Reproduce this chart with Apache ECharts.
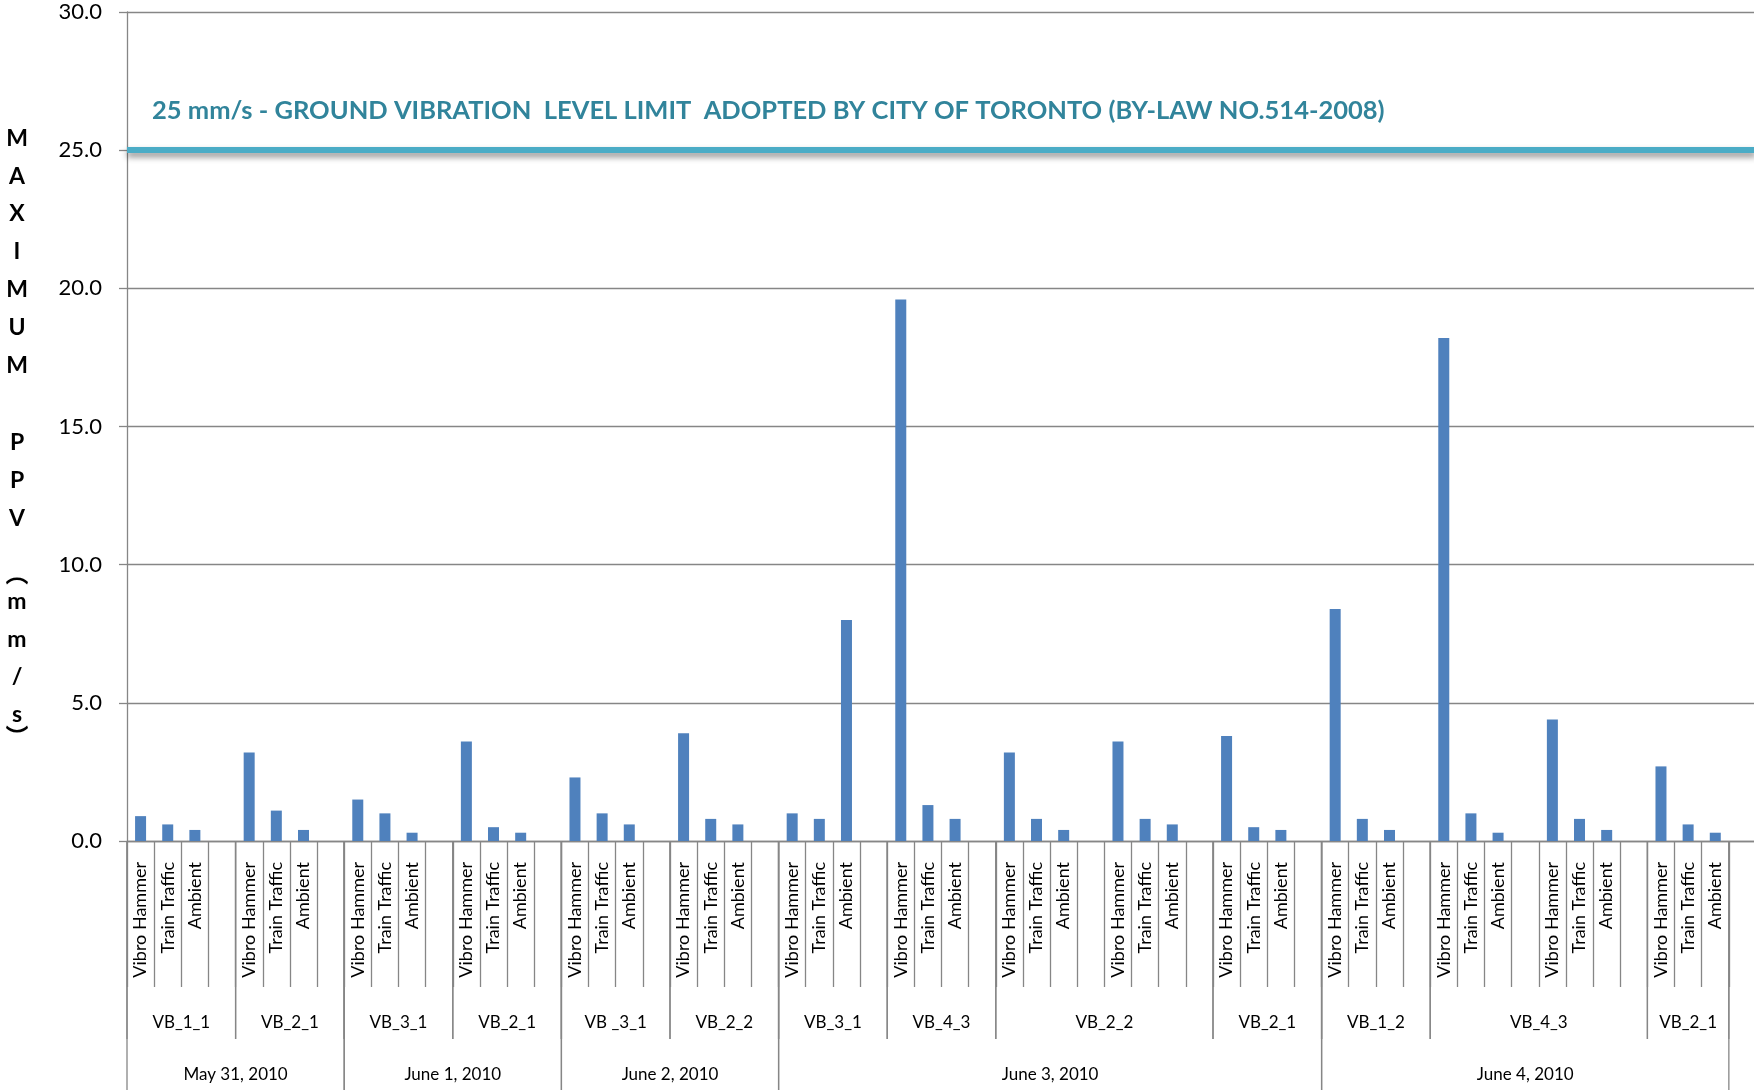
<!DOCTYPE html>
<html><head><meta charset="utf-8">
<script src="https://cdn.jsdelivr.net/npm/echarts@6/dist/echarts.min.js"></script>
<style>html,body{margin:0;padding:0;background:#fff}#c{width:1754px;height:1090px}</style>
</head><body><div id="c"></div>
<script>
// ---------- data ----------
const sources = ['Vibro Hammer', 'Train Traffic', 'Ambient'];
const setSensors = ['VB_1_1','VB_2_1','VB_3_1','VB_2_1','VB _3_1','VB_2_2','VB_3_1','VB_4_3','VB_2_2','VB_2_2','VB_2_1','VB_1_2','VB_4_3','VB_4_3','VB_2_1'];
const setDates = ['May 31, 2010','May 31, 2010','June 1, 2010','June 1, 2010','June 2, 2010','June 2, 2010','June 3, 2010','June 3, 2010','June 3, 2010','June 3, 2010','June 3, 2010','June 4, 2010','June 4, 2010','June 4, 2010','June 4, 2010'];
const vibroHammer  = [0.9, 3.2, 1.5, 3.6, 2.3, 3.9, 1.0, 19.6, 3.2, 3.6, 3.8, 8.4, 18.2, 4.4, 2.7];
const trainTraffic = [0.6, 1.1, 1.0, 0.5, 1.0, 0.8, 0.8, 1.3, 0.8, 0.8, 0.5, 0.8, 1.0, 0.8, 0.6];
const ambient      = [0.4, 0.4, 0.3, 0.3, 0.6, 0.6, 8.0, 0.8, 0.4, 0.6, 0.4, 0.4, 0.3, 0.4, 0.3];
const yMin = 0, yMax = 30, yStep = 5;
const limitValue = 25;
const limitText = '25 mm/s - GROUND VIBRATION  LEVEL LIMIT  ADOPTED BY CITY OF TORONTO (BY-LAW NO.514-2008)';
const yTitleLines = ['M','A','X','I','M','U','M','','P','P','V','','\uFE35','m','m','/','s','\uFE36'];

// ---------- build categories ----------
const cats = [], vals = [], setStart = [], setEnd = [];
setSensors.forEach((s, i) => {
  setStart.push(cats.length);
  [vibroHammer[i], trainTraffic[i], ambient[i]].forEach((v, k) => { cats.push(sources[k]); vals.push(v); });
  if (i < setSensors.length - 1) { cats.push(''); vals.push('-'); }
  setEnd.push(cats.length - 1);
});
cats.push(''); vals.push('-'); // trailing slot (cropped continuation)

const spanLabels = [];
function buildSpans(keyFn, labelFn, level) {
  const out = [];
  let cur = null;
  for (let i = 0; i < setSensors.length; i++) {
    const key = keyFn(i);
    if (cur && cur.key === key) { cur.end = setEnd[i]; }
    else { cur = { key, label: labelFn(i), start: setStart[i], end: setEnd[i] }; out.push(cur); }
  }
  return out.map(o => { spanLabels.push(o.label); return [o.start, 0, o.end, level, spanLabels.length - 1]; });
}
const spanData = buildSpans(i => setDates[i] + '|' + setSensors[i], i => setSensors[i], 2)
  .concat(buildSpans(i => setDates[i], i => setDates[i], 3));

const axisGray = '#868686';
const FONT = 'Lato';

const richName = yTitleLines.map((c, i) => {
  if (c === '') return i < 9 ? '{g1| }' : '{g2| }';
  if (c === '\uFE35') return '{p1|' + c + '}';
  if (c === '\uFE36') return '{p2|' + c + '}';
  return '{t|' + c + '}';
}).join('\n');

const chart = echarts.init(document.getElementById('c'), null, { renderer: 'canvas' });
chart.setOption({
  animation: false,
  backgroundColor: '#fff',
  grid: { left: 127, right: -2, top: 12, bottom: 249, containLabel: false, outerBoundsMode: 'none' },
  xAxis: {
    type: 'category',
    data: cats,
    boundaryGap: true,
    axisLine: { show: true, lineStyle: { color: axisGray, width: 1.3 } },
    axisTick: { show: true, interval: 0, length: 146, lineStyle: { color: axisGray, width: 1.3 } },
    axisLabel: { interval: 0, rotate: 90, margin: 21, fontSize: 18, fontFamily: FONT, color: '#000' },
    splitLine: { show: false }
  },
  yAxis: {
    type: 'value', min: yMin, max: yMax, interval: yStep,
    axisLine: { show: true, lineStyle: { color: axisGray, width: 1.3 } },
    axisTick: { show: true, length: 8, lineStyle: { color: axisGray, width: 1.3 } },
    splitLine: { show: true, lineStyle: { color: axisGray, width: 1.3 } },
    axisLabel: { formatter: v => v.toFixed(1), fontSize: 22, fontFamily: FONT, color: '#000', margin: 25 },
    name: richName,
    nameLocation: 'middle',
    nameRotate: 0,
    nameGap: 110,
    nameMoveOverlap: false,
    nameTextStyle: {
      align: 'center', verticalAlign: 'middle',
      padding: [6, 0, 0, 0],
      rich: {
        t: { fontSize: 23, fontWeight: 'bold', fontFamily: FONT, color: '#000', lineHeight: 37.8, align: 'center' },
        g1: { fontSize: 10, lineHeight: 40 },
        g2: { fontSize: 10, lineHeight: 27 },
        p1: { fontSize: 23, fontWeight: 'bold', fontFamily: 'Noto Sans CJK SC', color: '#000', lineHeight: 18, align: 'center' },
        p2: { fontSize: 23, fontWeight: 'bold', fontFamily: 'Noto Sans CJK SC', color: '#000', lineHeight: 6, align: 'center' }
      }
    }
  },
  series: [
    {
      type: 'bar',
      data: vals,
      barWidth: 11,
      itemStyle: { color: '#4F81BD' },
      markLine: {
        silent: true,
        symbol: ['none', 'none'],
        data: [{ yAxis: limitValue }],
        lineStyle: { color: '#4BACC6', width: 6, type: 'solid', shadowColor: 'rgba(0,0,0,0.45)', shadowBlur: 6, shadowOffsetY: 4 },
        label: {
          show: true, position: 'insideStartTop', formatter: limitText,
          color: '#31849B', fontWeight: 'bold', fontSize: 25.5, fontFamily: FONT,
          distance: [25, 26]
        },
        emphasis: { disabled: true }
      }
    },
    {
      type: 'custom',
      coordinateSystem: 'cartesian2d',
      silent: true,
      clip: false,
      z: 5,
      encode: { x: 0, y: 1 },
      data: spanData,
      renderItem: function (params, api) {
        const s = api.value(0), e = api.value(2), lvl = api.value(3), li = api.value(4);
        const w = api.size([1, 0])[0];
        const p0 = api.coord([s, 0]), p1 = api.coord([e, 0]);
        const x0 = p0[0] - w / 2, x1 = p1[0] + w / 2, y = p0[1];
        const len = lvl === 2 ? 198 : 260;
        const ty = lvl === 2 ? 182 : 234;
        const ls = { stroke: axisGray, lineWidth: 1.3 };
        return {
          type: 'group',
          children: [
            { type: 'line', shape: { x1: x0, y1: y, x2: x0, y2: y + len }, style: ls },
            { type: 'line', shape: { x1: x1, y1: y, x2: x1, y2: y + len }, style: ls },
            { type: 'text', x: (x0 + x1) / 2, y: y + ty,
              style: { text: spanLabels[li], align: 'center', verticalAlign: 'middle', fontSize: 17, fontFamily: FONT, fill: '#000' } }
          ]
        };
      }
    }
  ]
});
</script>
</body></html>
